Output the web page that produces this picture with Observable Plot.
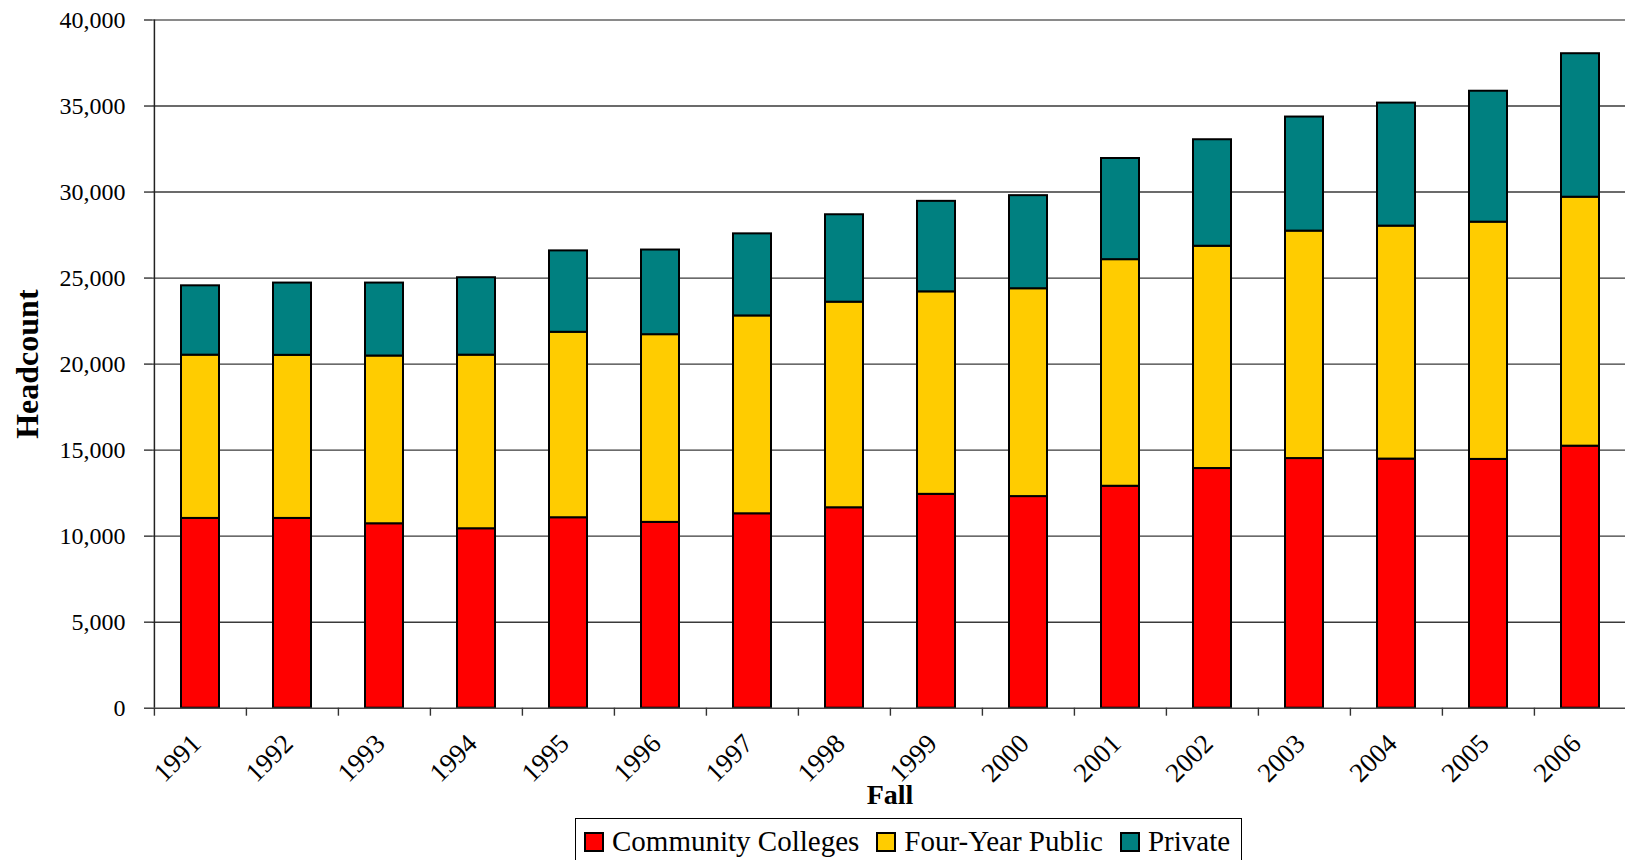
<!DOCTYPE html>
<html>
<head>
<meta charset="utf-8">
<script src="https://cdn.jsdelivr.net/npm/d3@7"></script>
<script src="https://cdn.jsdelivr.net/npm/@observablehq/plot@0.6"></script>
<style>
  html, body { margin: 0; padding: 0; background: #fff; overflow: hidden; }
  body { width: 1625px; height: 860px; position: relative; font-family: "Liberation Serif", "Times New Roman", serif; }
  #chart { position: absolute; left: 0; top: 0; }
  #chart svg, #chart svg text, #chart svg g { font-family: "Liberation Serif", "Times New Roman", serif !important; }
  #legend {
    position: absolute; left: 575px; top: 818px; width: 667px; height: 60px;
    box-sizing: border-box; border: 1px solid #000; background: #fff;
    display: flex; align-items: flex-start; padding: 6px 0 0 8px;
    font-family: "Liberation Serif", "Times New Roman", serif; font-size: 29px; color: #000;
  }
  .item { display: flex; align-items: center; margin-right: 17px; white-space: nowrap; line-height: 33px; }
  .sw { width: 16px; height: 16px; border: 2px solid #000; margin-right: 8px; margin-top: 1px; }
</style>
</head>
<body>
<div id="chart"></div>
<div id="legend"></div>
<script>
// ---- Data ----
const years = ["1991","1992","1993","1994","1995","1996","1997","1998","1999","2000","2001","2002","2003","2004","2005","2006"];
const series = ["Community Colleges", "Four-Year Public", "Private"];
const colors = ["#FF0000", "#FFCC00", "#008080"];
const communityColleges = [11030, 11030, 10720, 10430, 11070, 10800, 11300, 11650, 12430, 12300, 12900, 13930, 14510, 14480, 14460, 15230];
const fourYearPublic    = [ 9490,  9480,  9750, 10090, 10780, 10910, 11500, 11950, 11770, 12080, 13170, 12920, 13220, 13540, 13790, 14470];
const privateInst       = [ 4030,  4200,  4240,  4500,  4730,  4920,  4770,  5080,  5260,  5410,  5880,  6190,  6630,  7150,  7610,  8340];
const yTicks = [0, 5000, 10000, 15000, 20000, 25000, 30000, 35000, 40000];
const xTitle = "Fall";
const yTitle = "Headcount";

const seriesValues = [communityColleges, fourYearPublic, privateInst];
const data = years.flatMap((year, i) =>
  series.map((s, k) => ({year, series: s, value: seriesValues[k][i]}))
);

// ---- Layout ----
const W = 1625, H = 812;
const mL = 152, mR = -2, mT = 19.5, mB = H - 707.7;
const step = (W - mR - mL) / years.length;
const font = "Liberation Serif";

const chart = Plot.plot({
  width: W,
  height: H,
  marginLeft: mL,
  marginRight: mR,
  marginTop: mT,
  marginBottom: mB,
  style: {fontFamily: font, color: "#000", background: "#fff", overflow: "visible"},
  x: {domain: years, paddingInner: 0.59, paddingOuter: 0.295, axis: null},
  y: {domain: [0, 40000], axis: null},
  color: {domain: series, range: colors},
  marks: [
    // horizontal gridlines
    Plot.ruleY(yTicks.filter(d => d > 0 && d < 40000), {stroke: "#3a3a3a", strokeWidth: 1.4}),
    Plot.ruleY([40000], {stroke: "#8a8a8a", strokeWidth: 2.2}),
    // stacked bars
    Plot.barY(data, {x: "year", y: "value", fill: "series", stroke: "#000", strokeWidth: 2}),
    // left axis line
    Plot.ruleX([years[0]], {dx: -step / 2, stroke: "#222", strokeWidth: 1.5}),
    // bottom axis line
    Plot.ruleY([0], {stroke: "#444", strokeWidth: 1.6}),
    // x tick marks at category boundaries
    Plot.ruleX(years, {x: d => d, y1: 0, y2: 0, insetBottom: -8, dx: -step / 2, stroke: "#333", strokeWidth: 1.4}),
    // y axis ticks and labels
    Plot.axisY({ticks: yTicks, tickFormat: d3.format(","), tickSize: 8, tickPadding: 19, fontSize: 24, fontFamily: font, label: null, stroke: "#333", strokeWidth: 1.4}),
    // x tick labels, rotated
    Plot.text(years, {x: d => d, text: d => d, frameAnchor: "bottom", rotate: -45, textAnchor: "end", lineAnchor: "middle", dx: -4, dy: 31, fontSize: 27, fontFamily: font, fill: "#000"}),
    // axis titles
    Plot.text([xTitle], {frameAnchor: "bottom", text: d => d, textAnchor: "middle", dy: 95.3, lineAnchor: "bottom", fontWeight: "bold", fontSize: 28, fontFamily: font, fill: "#000"}),
    Plot.text([yTitle], {frameAnchor: "left", text: d => d, textAnchor: "middle", rotate: -90, dx: -115, lineAnchor: "bottom", fontWeight: "bold", fontSize: 32, fontFamily: font, fill: "#000"})
  ]
});
document.getElementById("chart").appendChild(chart);

// ---- Legend (built from series/colors) ----
const legend = document.getElementById("legend");
series.forEach((s, k) => {
  const item = document.createElement("div");
  item.className = "item";
  const sw = document.createElement("div");
  sw.className = "sw";
  sw.style.background = colors[k];
  const label = document.createElement("span");
  label.textContent = s;
  item.appendChild(sw);
  item.appendChild(label);
  legend.appendChild(item);
});
</script>
</body>
</html>
